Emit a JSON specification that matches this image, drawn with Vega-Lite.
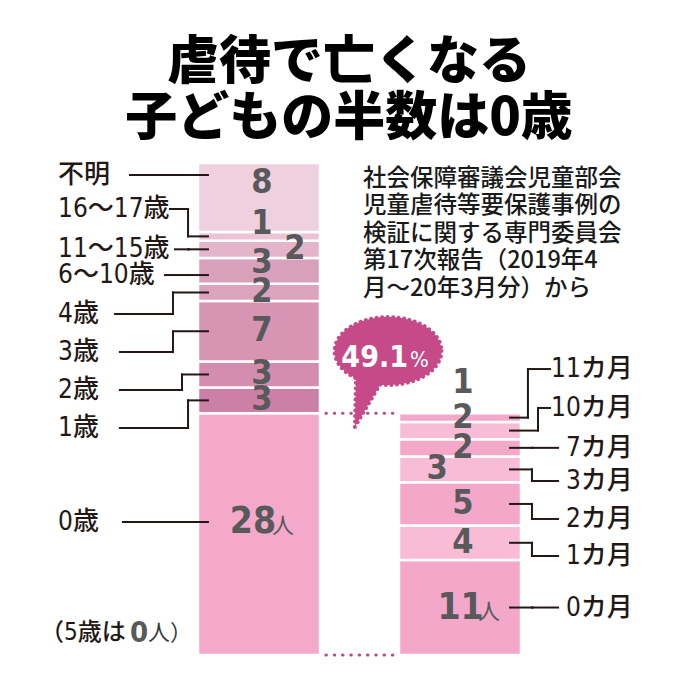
{
  "$schema": "https://vega.github.io/schema/vega-lite/v6.json",
  "width": 698,
  "height": 688,
  "autosize": {"type": "fit", "contains": "padding"},
  "padding": 0,
  "background": "#ffffff",
  "config": {"view": {"stroke": null}},
  "layer": [
    {
      "data": {"values": [
        {"group": "年齢", "label": "0歳", "n": 28, "order": 1},
        {"group": "年齢", "label": "1歳", "n": 3, "order": 2},
        {"group": "年齢", "label": "2歳", "n": 3, "order": 3},
        {"group": "年齢", "label": "3歳", "n": 7, "order": 4},
        {"group": "年齢", "label": "4歳", "n": 2, "order": 5},
        {"group": "年齢", "label": "6～10歳", "n": 3, "order": 6},
        {"group": "年齢", "label": "11～15歳", "n": 2, "order": 7},
        {"group": "年齢", "label": "16～17歳", "n": 1, "order": 8},
        {"group": "年齢", "label": "不明", "n": 8, "order": 9},
        {"group": "0歳の月齢", "label": "0カ月", "n": 11, "order": 1},
        {"group": "0歳の月齢", "label": "1カ月", "n": 4, "order": 2},
        {"group": "0歳の月齢", "label": "2カ月", "n": 5, "order": 3},
        {"group": "0歳の月齢", "label": "3カ月", "n": 3, "order": 4},
        {"group": "0歳の月齢", "label": "7カ月", "n": 2, "order": 5},
        {"group": "0歳の月齢", "label": "10カ月", "n": 2, "order": 6},
        {"group": "0歳の月齢", "label": "11カ月", "n": 1, "order": 7}
      ]},
      "transform": [
        {"calculate": "datum.group === '年齢' ? 1 : 2", "as": "side"},
        {"stack": "n", "groupby": ["group"], "sort": [{"field": "order", "order": "ascending"}], "as": ["y0", "y1"]},
        {"calculate": "(datum.y0 + datum.y1) / 2", "as": "mid"},
        {"calculate": "datum.side - 0.3035", "as": "xl"},
        {"calculate": "datum.side + 0.3035", "as": "xr"},
        {"calculate": "datum.side + ({'11～15歳': 0.164, '3カ月': -0.129, '0歳': -0.045, '0カ月': -0.012}[datum.label] || 0)", "as": "nx"},
        {"calculate": "{'不明': 54.68, '16～17歳': 49.93, '6～10歳': 45.41, '0歳': 15.41, '11カ月': 31.51, '10カ月': 27.46}[datum.label] || datum.mid", "as": "ny"},
        {"calculate": "{'不明': 55.61, '16～17歳': 51.67, '11～15歳': 47, '6～10歳': 44.02, '4歳': 39.51, '3歳': 35.1, '2歳': 30.7, '1歳': 26.3, '0歳': 15.41, '11カ月': 33.13, '10カ月': 28.62, '7カ月': 24, '3カ月': 20.16, '2カ月': 15.76, '1カ月': 11.47, '0カ月': 5.5}[datum.label]", "as": "ly"},
        {"calculate": "indexof(['不明', '6～10歳', '0歳'], datum.label) >= 0 ? datum.ly : datum.mid", "as": "by"},
        {"calculate": "{'16～17歳': 0.647, '4歳': 0.572, '3歳': 0.572, '2歳': 0.617, '1歳': 0.647, '11カ月': 2.338, '10カ月': 2.388, '3カ月': 2.358, '2カ月': 2.358, '1カ月': 2.358}[datum.label] || (datum.side == 1 ? 0.65 : 2.36)", "as": "ex"},
        {"calculate": "{'不明': 0.358, '16～17歳': 0.557, '11～15歳': 0.582, '6～10歳': 0.532, '4歳': 0.284, '3歳': 0.308, '2歳': 0.308, '1歳': 0.308, '0歳': 0.323, '11カ月': 2.448, '10カ月': 2.448}[datum.label] || 2.488", "as": "lx"},
        {"calculate": "datum.side == 1 ? 0.746 : 2.249", "as": "bx"}
      ],
      "layer": [
        {
          "mark": {"type": "rect", "stroke": "#ffffff", "strokeWidth": 2.5},
          "encoding": {
            "x": {"field": "xl", "type": "quantitative", "scale": {"domain": [-0.28856, 3.18408], "nice": false, "zero": false}, "axis": null},
            "x2": {"field": "xr"},
            "y": {"field": "y0", "type": "quantitative", "scale": {"domain": [-3.823, 75.885], "nice": false, "zero": false}, "axis": null},
            "y2": {"field": "y1"},
            "color": {"field": "label", "type": "nominal", "legend": null, "scale": {
              "domain": ["0歳", "1歳", "2歳", "3歳", "4歳", "6～10歳", "11～15歳", "16～17歳", "不明", "0カ月", "1カ月", "2カ月", "3カ月", "7カ月", "10カ月", "11カ月"],
              "range": ["#f4a9cb", "#cd80a5", "#d48dae", "#d794b3", "#dba3bd", "#d9a0bb", "#e4b5ca", "#eac4d5", "#efd0de", "#f3a8c9", "#f8bcd6", "#f3a8c9", "#f8bcd6", "#f3a8c9", "#f8bcd6", "#f3a8c9"]
            }}
          }
        },
        {
          "transform": [{"filter": "datum.label === '0歳'"}],
          "mark": {"type": "rule", "color": "#b94c88", "strokeWidth": 3, "strokeDash": [0.5, 7.8], "strokeCap": "round"},
          "encoding": {
            "x": {"datum": 1.333, "type": "quantitative", "scale": {"domain": [-0.28856, 3.18408], "nice": false, "zero": false}, "axis": null},
            "x2": {"datum": 1.677},
            "y": {"field": "y1", "type": "quantitative", "scale": {"domain": [-3.823, 75.885], "nice": false, "zero": false}, "axis": null}
          }
        },
        {
          "transform": [{"filter": "datum.label === '0歳'"}],
          "mark": {"type": "rule", "color": "#b94c88", "strokeWidth": 3, "strokeDash": [0.5, 7.8], "strokeCap": "round"},
          "encoding": {
            "x": {"datum": 1.333, "type": "quantitative", "scale": {"domain": [-0.28856, 3.18408], "nice": false, "zero": false}, "axis": null},
            "x2": {"datum": 1.677},
            "y": {"field": "y0", "type": "quantitative", "scale": {"domain": [-3.823, 75.885], "nice": false, "zero": false}, "axis": null}
          }
        },
        {
          "mark": {"type": "rule", "color": "#231815", "strokeWidth": 2, "strokeCap": "square"},
          "encoding": {
            "x": {"field": "lx", "type": "quantitative", "scale": {"domain": [-0.28856, 3.18408], "nice": false, "zero": false}, "axis": null},
            "x2": {"field": "ex"},
            "y": {"field": "ly", "type": "quantitative", "scale": {"domain": [-3.823, 75.885], "nice": false, "zero": false}, "axis": null}
          }
        },
        {
          "mark": {"type": "rule", "color": "#231815", "strokeWidth": 2, "strokeCap": "square"},
          "encoding": {
            "x": {"field": "ex", "type": "quantitative", "scale": {"domain": [-0.28856, 3.18408], "nice": false, "zero": false}, "axis": null},
            "y": {"field": "ly", "type": "quantitative", "scale": {"domain": [-3.823, 75.885], "nice": false, "zero": false}, "axis": null},
            "y2": {"field": "by"}
          }
        },
        {
          "mark": {"type": "rule", "color": "#231815", "strokeWidth": 2, "strokeCap": "square"},
          "encoding": {
            "x": {"field": "ex", "type": "quantitative", "scale": {"domain": [-0.28856, 3.18408], "nice": false, "zero": false}, "axis": null},
            "x2": {"field": "bx"},
            "y": {"field": "by", "type": "quantitative", "scale": {"domain": [-3.823, 75.885], "nice": false, "zero": false}, "axis": null}
          }
        },
        {
          "mark": {"type": "text", "font": "'DejaVu Sans Condensed', 'Noto Sans CJK JP'", "fontWeight": "bold", "color": "#58595b", "align": "center", "baseline": "middle", "dx": 3},
          "encoding": {
            "x": {"field": "nx", "type": "quantitative", "scale": {"domain": [-0.28856, 3.18408], "nice": false, "zero": false}, "axis": null},
            "y": {"field": "ny", "type": "quantitative", "scale": {"domain": [-3.823, 75.885], "nice": false, "zero": false}, "axis": null},
            "text": {"field": "n", "type": "quantitative"},
            "size": {"condition": {"test": "datum.n >= 10", "value": 37}, "value": 34}
          }
        },
        {
          "transform": [{"filter": "datum.n >= 10"}, {"calculate": "datum.side == 1 ? 1.119 : 2.144", "as": "px"}],
          "mark": {"type": "text", "text": "人", "font": "Noto Sans CJK JP", "fontSize": 22, "color": "#58595b", "align": "center", "baseline": "middle", "dy": 4},
          "encoding": {
            "x": {"field": "px", "type": "quantitative", "scale": {"domain": [-0.28856, 3.18408], "nice": false, "zero": false}, "axis": null},
            "y": {"field": "ny", "type": "quantitative", "scale": {"domain": [-3.823, 75.885], "nice": false, "zero": false}, "axis": null}
          }
        },
        {
          "transform": [{"filter": "datum.side == 1"}],
          "mark": {"type": "text", "font": "'DejaVu Sans Condensed', 'Noto Sans CJK JP'", "fontWeight": 500, "fontSize": 26, "color": "#231815", "align": "left", "baseline": "middle"},
          "encoding": {
            "x": {"datum": 0, "type": "quantitative", "scale": {"domain": [-0.28856, 3.18408], "nice": false, "zero": false}, "axis": null},
            "y": {"field": "ly", "type": "quantitative", "scale": {"domain": [-3.823, 75.885], "nice": false, "zero": false}, "axis": null},
            "text": {"field": "label", "type": "nominal"}
          }
        },
        {
          "transform": [{"filter": "datum.side == 2"}],
          "mark": {"type": "text", "font": "'DejaVu Sans Condensed', 'Noto Sans CJK JP'", "fontWeight": 500, "fontSize": 26, "color": "#231815", "align": "right", "baseline": "middle"},
          "encoding": {
            "x": {"datum": 2.86, "type": "quantitative", "scale": {"domain": [-0.28856, 3.18408], "nice": false, "zero": false}, "axis": null},
            "y": {"field": "ly", "type": "quantitative", "scale": {"domain": [-3.823, 75.885], "nice": false, "zero": false}, "axis": null},
            "text": {"field": "label", "type": "nominal"}
          }
        },
        {
          "transform": [{"filter": "datum.label === '0歳'"}],
          "mark": {"type": "point", "shape": "M 1 0 A 1 0.636 0 0 1 -0.15 0.629 L -0.62 1.42 L -0.6 0.509 A 1 0.636 0 1 1 1 0 Z", "size": 11449, "filled": true, "fill": "#c64a88", "stroke": "#c64a88", "strokeWidth": 4, "strokeDash": [0.01, 5.5], "strokeCap": "round", "opacity": 1},
          "encoding": {
            "x": {"datum": 1.642, "type": "quantitative", "scale": {"domain": [-0.28856, 3.18408], "nice": false, "zero": false}, "axis": null},
            "y": {"datum": 35.22, "type": "quantitative", "scale": {"domain": [-3.823, 75.885], "nice": false, "zero": false}, "axis": null}
          }
        },
        {
          "transform": [
            {"joinaggregate": [{"op": "sum", "field": "n", "as": "total"}], "groupby": ["group"]},
            {"filter": "datum.label === '0歳'"},
            {"calculate": "100 * datum.n / datum.total", "as": "pct"}
          ],
          "mark": {"type": "text", "font": "'DejaVu Sans Condensed', sans-serif", "fontWeight": "bold", "fontSize": 30, "color": "#ffffff", "align": "right", "baseline": "alphabetic"},
          "encoding": {
            "x": {"datum": 1.741, "type": "quantitative", "scale": {"domain": [-0.28856, 3.18408], "nice": false, "zero": false}, "axis": null},
            "y": {"datum": 33.37, "type": "quantitative", "scale": {"domain": [-3.823, 75.885], "nice": false, "zero": false}, "axis": null},
            "text": {"field": "pct", "type": "quantitative", "format": ".1f"}
          }
        },
        {
          "transform": [{"filter": "datum.label === '0歳'"}],
          "mark": {"type": "text", "text": "%", "font": "'DejaVu Sans Condensed', sans-serif", "fontSize": 22, "color": "#ffffff", "align": "left", "baseline": "alphabetic"},
          "encoding": {
            "x": {"datum": 1.751, "type": "quantitative", "scale": {"domain": [-0.28856, 3.18408], "nice": false, "zero": false}, "axis": null},
            "y": {"datum": 33.37, "type": "quantitative", "scale": {"domain": [-3.823, 75.885], "nice": false, "zero": false}, "axis": null}
          }
        }
      ]
    },
    {
      "data": {"values": [{"note": "annotation"}]},
      "layer": [
        {
          "mark": {"type": "text", "text": ["虐待で亡くなる", "子どもの半数は0歳"], "font": "Noto Sans CJK JP", "fontWeight": 900, "fontSize": 52, "lineHeight": 56, "align": "center", "baseline": "middle", "color": "#000000"},
          "encoding": {
            "x": {"datum": 1.4478, "type": "quantitative", "scale": {"domain": [-0.28856, 3.18408], "nice": false, "zero": false}, "axis": null},
            "y": {"datum": 68.58, "type": "quantitative", "scale": {"domain": [-3.823, 75.885], "nice": false, "zero": false}, "axis": null}
          }
        },
        {
          "mark": {"type": "text", "text": ["社会保障審議会児童部会", "児童虐待等要保護事例の", "検証に関する専門委員会", "第17次報告（2019年4", "月～20年3月分）から"], "font": "Noto Sans CJK JP", "fontWeight": 500, "fontSize": 23.5, "lineHeight": 27.5, "align": "left", "baseline": "middle", "color": "#1a1a1a"},
          "encoding": {
            "x": {"datum": 1.517, "type": "quantitative", "scale": {"domain": [-0.28856, 3.18408], "nice": false, "zero": false}, "axis": null},
            "y": {"datum": 55.15, "type": "quantitative", "scale": {"domain": [-3.823, 75.885], "nice": false, "zero": false}, "axis": null}
          }
        },
        {
          "mark": {"type": "text", "text": "（5歳は", "font": "'DejaVu Sans Condensed', 'Noto Sans CJK JP'", "fontWeight": 500, "fontSize": 24, "align": "left", "baseline": "middle", "color": "#231815"},
          "encoding": {
            "x": {"datum": -0.09, "type": "quantitative", "scale": {"domain": [-0.28856, 3.18408], "nice": false, "zero": false}, "axis": null},
            "y": {"datum": 2.55, "type": "quantitative", "scale": {"domain": [-3.823, 75.885], "nice": false, "zero": false}, "axis": null}
          }
        },
        {
          "mark": {"type": "text", "text": "0", "font": "'DejaVu Sans Condensed', sans-serif", "fontWeight": "bold", "fontSize": 29, "align": "left", "baseline": "middle", "color": "#58595b"},
          "encoding": {
            "x": {"datum": 0.358, "type": "quantitative", "scale": {"domain": [-0.28856, 3.18408], "nice": false, "zero": false}, "axis": null},
            "y": {"datum": 2.55, "type": "quantitative", "scale": {"domain": [-3.823, 75.885], "nice": false, "zero": false}, "axis": null}
          }
        },
        {
          "mark": {"type": "text", "text": "人）", "font": "Noto Sans CJK JP", "fontSize": 22, "align": "left", "baseline": "middle", "color": "#3a3a3c"},
          "encoding": {
            "x": {"datum": 0.448, "type": "quantitative", "scale": {"domain": [-0.28856, 3.18408], "nice": false, "zero": false}, "axis": null},
            "y": {"datum": 2.55, "type": "quantitative", "scale": {"domain": [-3.823, 75.885], "nice": false, "zero": false}, "axis": null}
          }
        }
      ]
    }
  ]
}
